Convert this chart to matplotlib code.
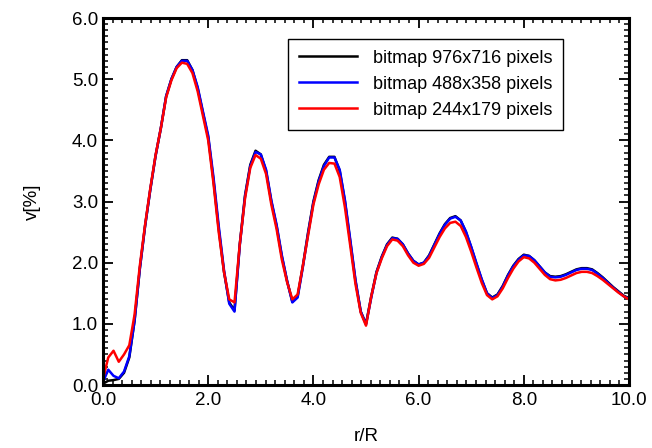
import numpy as np
import matplotlib
matplotlib.use("Agg")
import matplotlib.pyplot as plt
from matplotlib.ticker import MultipleLocator, FormatStrFormatter

# r/R sampled every 0.1
r = np.round(np.arange(0, 10.01, 0.1), 1)

v_976 = [0.02, 0.07, 0.08, 0.10, 0.20, 0.45, 1.05, 1.90, 2.60, 3.20,
         3.75, 4.20, 4.72, 5.00, 5.20, 5.31, 5.31, 5.15, 4.85, 4.45,
         4.05, 3.35, 2.55, 1.85, 1.35, 1.22, 2.30, 3.10, 3.60, 3.83,
         3.77, 3.50, 3.00, 2.60, 2.10, 1.70, 1.36, 1.45, 1.95, 2.50,
         3.00, 3.35, 3.60, 3.73, 3.73, 3.50, 3.00, 2.35, 1.70, 1.20,
         1.00, 1.45, 1.85, 2.10, 2.30, 2.41, 2.39, 2.30, 2.15, 2.03,
         1.97, 2.00, 2.12, 2.30, 2.48, 2.63, 2.73, 2.76, 2.69, 2.50,
         2.25, 1.98, 1.72, 1.50, 1.43, 1.48, 1.62, 1.80, 1.95, 2.06,
         2.13, 2.11, 2.04, 1.94, 1.84, 1.78, 1.77, 1.78, 1.81, 1.85,
         1.89, 1.91, 1.91, 1.89, 1.83, 1.76, 1.68, 1.60, 1.53, 1.46,
         1.42]

v_488 = [0.05, 0.25, 0.15, 0.11, 0.22, 0.47, 1.05, 1.90, 2.60, 3.20,
         3.75, 4.20, 4.72, 5.00, 5.20, 5.30, 5.30, 5.15, 4.87, 4.47,
         4.08, 3.40, 2.60, 1.88, 1.33, 1.20, 2.28, 3.08, 3.58, 3.81,
         3.77, 3.52, 3.02, 2.62, 2.12, 1.70, 1.35, 1.43, 1.93, 2.48,
         2.98, 3.33, 3.58, 3.72, 3.72, 3.52, 3.02, 2.38, 1.72, 1.20,
         0.99, 1.43, 1.84, 2.09, 2.29, 2.40, 2.39, 2.30, 2.15, 2.03,
         1.97, 2.00, 2.11, 2.29, 2.47, 2.62, 2.72, 2.75, 2.69, 2.51,
         2.26, 1.99, 1.73, 1.50, 1.42, 1.47, 1.61, 1.79, 1.94, 2.05,
         2.12, 2.11, 2.04, 1.94, 1.84, 1.77, 1.76, 1.77, 1.80, 1.84,
         1.88, 1.90, 1.90, 1.88, 1.82, 1.75, 1.67, 1.59, 1.52, 1.45,
         1.41]

v_244 = [0.10, 0.45, 0.56, 0.38, 0.50, 0.65, 1.15, 1.95, 2.62, 3.22,
         3.76, 4.20, 4.70, 4.98, 5.18, 5.27, 5.25, 5.10, 4.80, 4.40,
         4.00, 3.30, 2.50, 1.85, 1.40, 1.35, 2.30, 3.05, 3.55, 3.76,
         3.70, 3.45, 2.95, 2.55, 2.05, 1.68, 1.40, 1.48, 1.95, 2.45,
         2.95, 3.28, 3.52, 3.63, 3.62, 3.40, 2.90, 2.28, 1.65, 1.18,
         0.97, 1.45, 1.83, 2.07, 2.27, 2.38, 2.36, 2.27, 2.12, 2.00,
         1.95, 1.98, 2.08, 2.25, 2.42, 2.56, 2.65, 2.67, 2.60, 2.42,
         2.18, 1.92, 1.67, 1.47, 1.40, 1.45, 1.58, 1.75, 1.90, 2.02,
         2.09, 2.07, 2.00, 1.90, 1.80, 1.73, 1.71, 1.72, 1.75, 1.79,
         1.83, 1.85, 1.85, 1.83, 1.78, 1.72, 1.65, 1.58, 1.51, 1.45,
         1.40]

labels = ["bitmap 976x716 pixels", "bitmap 488x358 pixels", "bitmap 244x179 pixels"]
colores = ["black", "#0000ff", "#ff0000"]

plt.rcParams['font.family'] = ['Liberation Sans', 'DejaVu Sans']

fig = plt.figure(figsize=(6.52, 4.48), dpi=100)
ax = fig.add_axes([103/652, 1 - 385/448, 526/652, 367/448])

for serie, lab, col in zip([v_976, v_488, v_244], labels, colores):
    ax.plot(r, serie, color=col, lw=1.8, label=lab)

ax.set_xlim(0, 10)
ax.set_ylim(0, 6)
ax.xaxis.set_major_locator(MultipleLocator(2))
ax.xaxis.set_minor_locator(MultipleLocator(2 / 11))
ax.yaxis.set_major_locator(MultipleLocator(1))
ax.yaxis.set_minor_locator(MultipleLocator(0.1))
ax.xaxis.set_major_formatter(FormatStrFormatter('%.1f'))
ax.yaxis.set_major_formatter(FormatStrFormatter('%.1f'))

ax.tick_params(which='both', direction='in', top=True, right=True, labelsize=13.5)
ax.tick_params(which='major', length=7, width=1.3)
ax.tick_params(which='minor', length=3.8, width=1.1)
ax.tick_params(axis='x', pad=5)
ax.tick_params(axis='y', pad=3.5)
for s in ax.spines.values():
    s.set_linewidth(2.2)

ax.set_xlabel("r/R", fontsize=13.5, labelpad=14)
ax.set_ylabel("v[%]", fontsize=13.5, labelpad=22)

leg = ax.legend(loc='upper left', bbox_to_anchor=(0.352, 0.943), fontsize=13,
                fancybox=False, framealpha=1, edgecolor='black',
                handlelength=3.2, handletextpad=0.9, labelspacing=0.5,
                borderpad=0.6, borderaxespad=0)
leg.get_frame().set_linewidth(1.0)

plt.savefig("out.png", dpi=100)
plt.close()
